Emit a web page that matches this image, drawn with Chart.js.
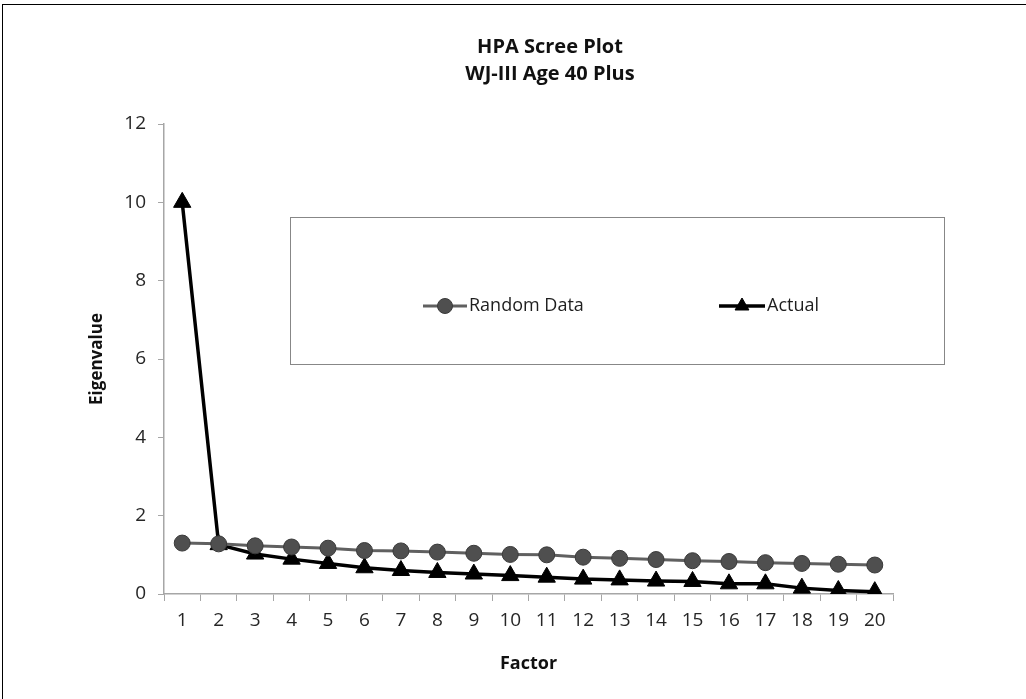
<!DOCTYPE html>
<html>
<head>
<meta charset="utf-8">
<script src="https://cdn.jsdelivr.net/npm/chart.js@4/dist/chart.umd.min.js"></script>
<style>
  html, body { margin: 0; padding: 0; background: #fff; overflow: hidden; }
  #wrap { position: relative; width: 1026px; height: 699px; }
  #frame { position: absolute; left: 2px; top: 4px; width: 1100px; height: 800px; border: 1.5px solid #000; box-sizing: border-box; pointer-events: none; }
  canvas { position: absolute; left: 0; top: 0; }
</style>
</head>
<body>
<div id="wrap">
  <canvas id="grafico" width="1026" height="699"></canvas>
  <div id="frame"></div>
</div>
<script>
// datos
const factores = ['1','2','3','4','5','6','7','8','9','10','11','12','13','14','15','16','17','18','19','20'];
const randomData = [1.30, 1.28, 1.23, 1.20, 1.17, 1.11, 1.10, 1.07, 1.04, 1.01, 1.00, 0.94, 0.91, 0.88, 0.85, 0.83, 0.80, 0.78, 0.76, 0.74];
const actual = [10.0, 1.26, 1.02, 0.89, 0.78, 0.67, 0.60, 0.55, 0.51, 0.47, 0.43, 0.38, 0.36, 0.33, 0.32, 0.26, 0.26, 0.15, 0.09, 0.06];
const yTicks = [0, 2, 4, 6, 8, 10, 12];

const fuente = "'Open Sans', 'DejaVu Sans', sans-serif";
const gris = '#a6a6a6';

// leyenda dentro de un recuadro, como en el original
const leyendaCaja = {
    id: 'leyendaCaja',
    beforeDraw(chart) {
        // centrar el titulo sobre la zona del grafico
        chart.titleBlock.left = 207;
        chart.titleBlock.right = 893;
    },
    afterDraw(chart) {
        const ctx = chart.ctx;
        ctx.save();
        ctx.fillStyle = '#fff';
        ctx.fillRect(290, 217, 654, 147);
        ctx.strokeStyle = '#878787';
        ctx.lineWidth = 1;
        ctx.strokeRect(290.5, 217.5, 654, 147);

        const items = [
            { x1: 423, x2: 467, texto: 'Random Data' },
            { x1: 719, x2: 765, texto: 'Actual' }
        ];
        const y = 306;
        items.forEach((it, i) => {
            const ds = chart.data.datasets[i];
            ctx.strokeStyle = ds.borderColor;
            ctx.lineWidth = ds.borderWidth;
            ctx.beginPath();
            ctx.moveTo(it.x1, y);
            ctx.lineTo(it.x2, y);
            ctx.stroke();
            ctx.fillStyle = ds.pointBackgroundColor;
            ctx.strokeStyle = ds.pointBorderColor;
            ctx.lineWidth = 1;
            Chart.helpers.drawPoint(ctx, {
                pointStyle: ds.pointStyle,
                radius: i === 0 ? 7.5 : 8,
                borderWidth: 1,
                rotation: 0
            }, (it.x1 + it.x2) / 2, y);
            ctx.fillStyle = '#1e1e1e';
            ctx.font = '18px ' + fuente;
            ctx.textAlign = 'left';
            ctx.textBaseline = 'middle';
            ctx.fillText(it.texto, it.x2 + 2, y);
        });
        ctx.restore();
    }
};

const ctx = document.getElementById('grafico').getContext('2d');

new Chart(ctx, {
    type: 'line',
    data: {
        labels: factores,
        datasets: [{
            label: 'Random Data',
            data: randomData,
            borderColor: '#606060',
            borderWidth: 3,
            pointStyle: 'circle',
            pointRadius: 8,
            pointBackgroundColor: '#4f4f4f',
            pointBorderColor: '#3a3a3a',
            pointBorderWidth: 1,
            tension: 0
        }, {
            label: 'Actual',
            data: actual,
            borderColor: '#000',
            borderWidth: 3.5,
            pointStyle: 'triangle',
            pointRadius: 10,
            pointBackgroundColor: '#000',
            pointBorderColor: '#000',
            pointBorderWidth: 1,
            tension: 0
        }]
    },
    options: {
        responsive: false,
        animation: false,
        layout: { padding: { left: 0, right: 133, top: 0, bottom: 0 } },
        plugins: {
            legend: { display: false },
            tooltip: { enabled: false },
            title: {
                display: true,
                text: ['HPA Scree Plot', 'WJ-III Age 40 Plus'],
                color: '#111',
                font: { family: fuente, size: 20, weight: 'bold', lineHeight: 1.35 },
                padding: { top: 34, bottom: 36 }
            }
        },
        scales: {
            x: {
                offset: true,
                grid: { display: true, offset: true, drawOnChartArea: false, drawTicks: true, tickLength: 7, color: gris },
                border: { color: gris, width: 1.5 },
                ticks: { color: '#262626', font: { family: fuente, size: 19 }, padding: 8, maxRotation: 0, autoSkip: false },
                title: { display: true, text: 'Factor', color: '#111', font: { family: fuente, size: 18, weight: 'bold' }, padding: { top: 0, bottom: 24 } },
                afterFit(scale) { scale.height = 105; }
            },
            y: {
                min: 0,
                max: 12,
                afterBuildTicks(scale) { scale.ticks = yTicks.map(v => ({ value: v })); },
                grid: { display: true, drawOnChartArea: false, drawTicks: true, tickLength: 6, color: gris },
                border: { color: gris, width: 1.5 },
                ticks: { color: '#262626', font: { family: fuente, size: 19 }, padding: 12 },
                title: { display: true, text: 'Eigenvalue', color: '#111', font: { family: fuente, size: 17, weight: 'bold' }, padding: { top: 87, bottom: 0 } },
                afterFit(scale) { scale.width = 164; }
            }
        }
    },
    plugins: [leyendaCaja]
});
</script>
</body>
</html>
